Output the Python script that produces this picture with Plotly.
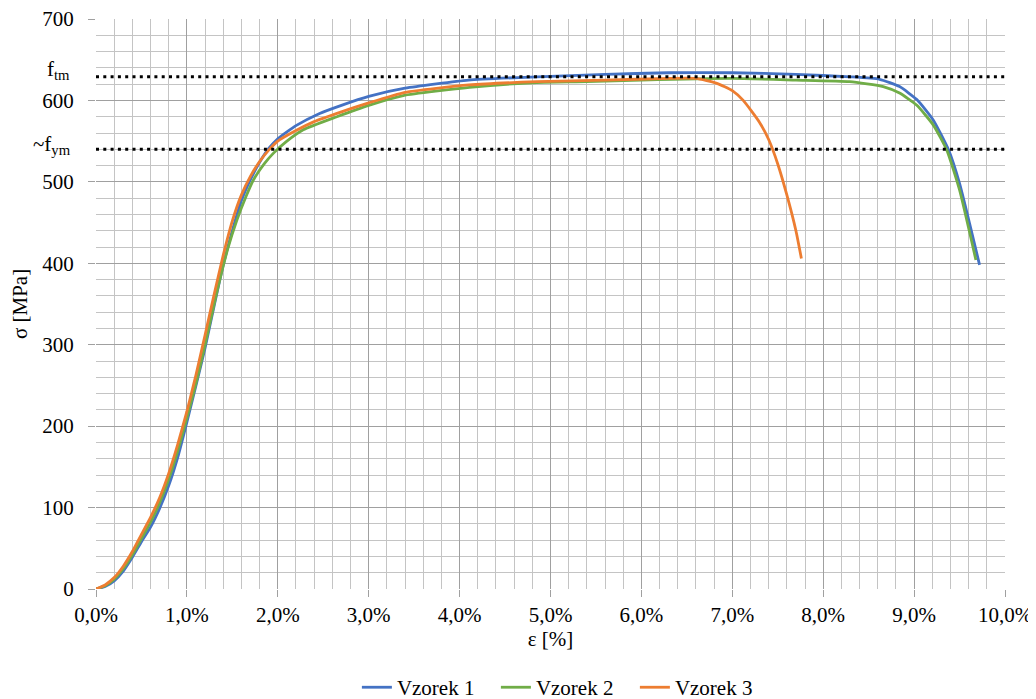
import plotly.graph_objects as go

# Vzorek 1 (blue)
v1_x = [0, 0.1, 0.2, 0.3, 0.4, 0.5, 0.6, 0.7, 0.8, 0.9, 1.0, 1.1, 1.2, 1.3, 1.4, 1.5, 1.6, 1.7, 1.8, 1.9,
        2.0, 2.2, 2.46, 2.7, 3.0, 3.4, 4.1, 4.85, 5.6, 6.3, 7.0, 7.7, 8.3, 8.62, 8.84, 9.03, 9.21, 9.38,
        9.5, 9.61, 9.72]
v1_y = [0, 3, 10, 22, 39, 58, 76, 99, 127, 162, 205, 250, 296, 348, 398, 440, 477, 503, 524, 541,
        553, 569, 584, 594, 605, 615, 625, 629, 632, 634, 634, 632, 629, 626, 617, 601, 576, 539,
        498, 449, 398]

# Vzorek 2 (green)
v2_x = [0, 0.1, 0.2, 0.3, 0.4, 0.5, 0.6, 0.7, 0.8, 0.9, 1.0, 1.11, 1.2, 1.3, 1.36, 1.45, 1.55, 1.65, 1.73,
        1.85, 1.95, 2.1, 2.28, 2.65, 3.0, 3.38, 4.11, 4.85, 5.4, 6.0, 7.0, 7.7, 8.29, 8.66, 8.84, 9.03,
        9.21, 9.36, 9.5, 9.68]
v2_y = [0, 4, 12, 25, 42, 62, 82, 106, 135, 170, 210, 257, 300, 350, 379, 418, 453, 482, 502,
        522, 535, 550, 564, 580, 594, 606, 616, 622, 623, 625, 627, 625, 623, 617, 609, 594,
        570, 539, 490, 404]

# Vzorek 3 (orange)
v3_x = [0, 0.1, 0.2, 0.3, 0.4, 0.5, 0.6, 0.7, 0.8, 0.9, 1.0, 1.1, 1.2, 1.3, 1.4, 1.5, 1.6, 1.7, 1.8, 1.9,
        2.0, 2.2, 2.4, 2.7, 3.0, 3.4, 4.1, 4.85, 5.6, 6.3, 6.6, 6.83, 7.0, 7.12, 7.3, 7.4, 7.5, 7.6, 7.7, 7.76]
v3_y = [0, 5, 14, 28, 46, 67, 88, 112, 142, 178, 218, 263, 312, 362, 410, 452, 484, 507, 525, 539,
        550, 563, 574, 586, 597, 610, 619, 623, 625, 627, 627, 621, 612, 600, 573, 552, 522, 484, 440, 406]

series_names = ["Vzorek 1", "Vzorek 2", "Vzorek 3"]
series_colors = ["#4472C4", "#70AD47", "#ED7D31"]

f_tm = 629
f_ym = 540
x_range = [0, 10]
y_range = [0, 700]

FONT = "Liberation Serif"

fig = go.Figure()

for xs, ys, name, col in zip([v1_x, v2_x, v3_x], [v1_y, v2_y, v3_y], series_names, series_colors):
    fig.add_trace(go.Scatter(x=xs, y=ys, mode="lines", name=name,
                             line=dict(color=col, width=2.8, shape="spline", smoothing=0.5)))

for level in [f_tm, f_ym]:
    fig.add_trace(go.Scatter(x=x_range, y=[level, level], mode="lines", showlegend=False,
                             line=dict(color="black", width=3, dash="3px,4.3px"), hoverinfo="skip"))

fig.add_annotation(text="f<sub>tm</sub>", xref="paper", yref="y", x=0, y=f_tm, xanchor="right",
                   yanchor="middle", xshift=-24, yshift=7, showarrow=False,
                   font=dict(family=FONT, size=21, color="black"))
fig.add_annotation(text="~f<sub>ym</sub>", xref="paper", yref="y", x=0, y=f_ym, xanchor="right",
                   yanchor="middle", xshift=-23, yshift=4, showarrow=False,
                   font=dict(family=FONT, size=21, color="black"))

# the page body adds an 8 px margin; the figure is sized/offset to compensate
fig.update_layout(
    width=1028, height=691,
    margin=dict(l=88, r=31, t=11, b=110, autoexpand=False),
    plot_bgcolor="white", paper_bgcolor="white",
    separators=", ",
    font=dict(family=FONT, size=20, color="black"),
    showlegend=True,
    legend=dict(orientation="h", x=0.287, xanchor="left", y=-0.137, yanchor="top",
                font=dict(family=FONT, size=21), itemwidth=30,
                entrywidth=94, entrywidthmode="pixels"),
    xaxis=dict(range=x_range, dtick=1, tickformat=".1f", ticksuffix="%",
               showgrid=True, gridcolor="#A0A0A0", gridwidth=1,
               minor=dict(dtick=0.2, showgrid=True, gridcolor="#C4C4C4", gridwidth=1),
               ticks="outside", ticklen=7, tickcolor="#A0A0A0", ticklabeloverflow="allow",
               zeroline=False, showline=False, automargin=False,
               title=dict(text="ε [%]", font=dict(family=FONT, size=21), standoff=0),
               tickfont=dict(family=FONT, size=21)),
    yaxis=dict(range=y_range, dtick=100,
               showgrid=True, gridcolor="#A0A0A0", gridwidth=1,
               minor=dict(dtick=20, showgrid=True, gridcolor="#C4C4C4", gridwidth=1),
               ticks="outside", ticklen=7, tickcolor="#A0A0A0", ticklabelstandoff=10,
               ticklabeloverflow="allow",
               zeroline=False, showline=False, automargin=False,
               title=dict(text="σ [MPa]", font=dict(family=FONT, size=21), standoff=12),
               tickfont=dict(family=FONT, size=21)),
)

fig.write_html("out.html")
